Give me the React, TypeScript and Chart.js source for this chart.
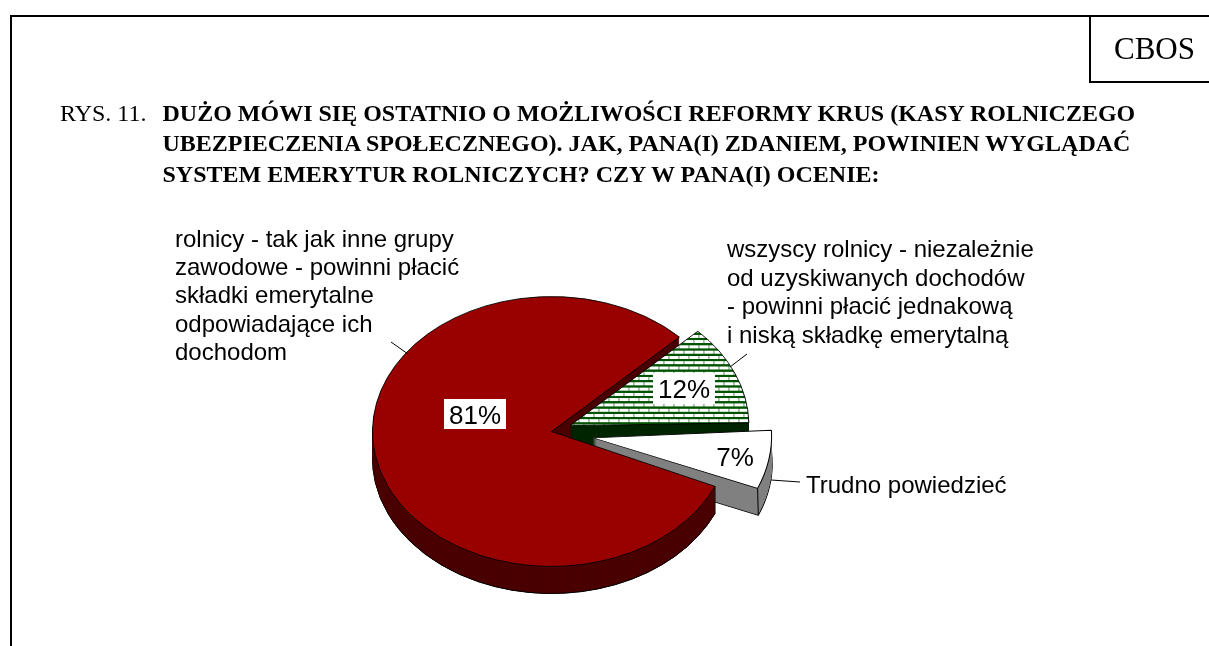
import React, { useEffect, useRef } from "react";
import Chart from "chart.js/auto";

const categories = [
  "rolnicy - tak jak inne grupy zawodowe - powinni płacić składki emerytalne odpowiadające ich dochodom",
  "wszyscy rolnicy - niezależnie od uzyskiwanych dochodów - powinni płacić jednakową i niską składkę emerytalną",
  "Trudno powiedzieć",
];
const shares = [81, 12, 7];
const valueLabels = ["81%", "12%", "7%"];
const explode = [0, 20, 42];
const topColors = ["#990000", "pattern", "#ffffff"];
const wallColors = ["#4a0000", "#002400", "#808080"];

const titleLead = "RYS. 11.";
const titleLines = [
  "DUŻO MÓWI SIĘ OSTATNIO O MOŻLIWOŚCI REFORMY KRUS (KASY ROLNICZEGO",
  "UBEZPIECZENIA SPOŁECZNEGO). JAK, PANA(I) ZDANIEM, POWINIEN WYGLĄDAĆ",
  "SYSTEM EMERYTUR ROLNICZYCH? CZY W PANA(I) OCENIE:",
];
const redLabelLines = ["rolnicy - tak jak inne grupy", "zawodowe - powinni płacić", "składki emerytalne", "odpowiadające ich", "dochodom"];
const greenLabelLines = ["wszyscy rolnicy - niezależnie", "od uzyskiwanych dochodów", "- powinni płacić jednakową", "i niską składkę emerytalną"];
const whiteLabelLines = ["Trudno powiedzieć"];

const W = 1209;
const H = 646;
const TILT = 0.754;
const DEPTH = 27;
const SANS = '"Liberation Sans", Arial, sans-serif';
const SERIF = '"Liberation Serif", "Times New Roman", serif';
// small perspective turn of the exploded slices, in degrees
const perspectiveTurn = [0, 0, -1.5];

const makePattern = () => {
  const c = document.createElement("canvas");
  c.width = 10;
  c.height = 14;
  const g = c.getContext("2d")!;
  g.fillStyle = "#ffffff";
  g.fillRect(0, 0, 10, 14);
  g.fillStyle = "#005400";
  g.fillRect(0, 0, 10, 3);
  g.fillRect(0, 7, 10, 3);
  g.fillStyle = "#5f8f5f";
  g.fillRect(0, 3, 1, 4);
  g.fillRect(5, 10, 1, 4);
  return g.createPattern(c, "repeat");
};

const pie3d = {
  id: "pie3d",
  beforeDatasetDraw(chart: any) {
    const ctx = chart.ctx;
    const arcs = chart.getDatasetMeta(0).data;
    const cx = arcs[0].x;
    const cy = arcs[0].y;

    const shift = (i: number) => {
      const a = arcs[i];
      const mid = (a.startAngle + a.endAngle) / 2;
      return { x: Math.cos(mid) * explode[i], y: Math.sin(mid) * explode[i] * TILT };
    };
    const place = (i: number, dy: number) => {
      const s = shift(i);
      ctx.translate(cx + s.x, cy + s.y);
      ctx.rotate((perspectiveTurn[i] * Math.PI) / 180);
      ctx.translate(-cx, -cy + dy);
    };
    const paint = (i: number, dy: number, fill: any, border: number) => {
      const clone = Object.create(arcs[i]);
      clone.options = { ...arcs[i].options, backgroundColor: fill, borderWidth: border, borderColor: "#000000" };
      ctx.save();
      place(i, dy);
      ctx.translate(0, cy);
      ctx.scale(1, TILT);
      ctx.translate(0, -cy);
      clone.draw(ctx);
      ctx.restore();
    };
    const walls = (i: number) => {
      paint(i, DEPTH, wallColors[i], 1);
      for (let d = DEPTH - 1; d > 0; d--) paint(i, d, wallColors[i], 0);
    };
    const top = (i: number) => paint(i, 0, arcs[i].options.backgroundColor, 1);
    const edge = (i: number, angle: number) => {
      const px = cx + Math.cos(angle) * arcs[i].outerRadius;
      const py = cy + Math.sin(angle) * arcs[i].outerRadius * TILT;
      ctx.save();
      place(i, 0);
      ctx.strokeStyle = "#000000";
      ctx.lineWidth = 1;
      ctx.beginPath();
      ctx.moveTo(px, py);
      ctx.lineTo(px, py + DEPTH);
      ctx.stroke();
      ctx.restore();
    };

    walls(0);
    walls(1);
    top(1);
    walls(2);
    top(2);
    edge(2, arcs[2].endAngle);

    // the near part of the large slice stands in front of the exploded ones
    const a0 = arcs[0].startAngle;
    ctx.save();
    ctx.beginPath();
    ctx.moveTo(cx, cy);
    ctx.lineTo(cx + 2000 * Math.cos(a0), cy + 2000 * Math.sin(a0) * TILT);
    ctx.lineTo(cx - 2000, cy + 2000);
    ctx.lineTo(cx - 2000, cy);
    ctx.closePath();
    ctx.clip();
    walls(0);
    ctx.restore();
    top(0);
    edge(0, a0);
    return false;
  },
  afterDraw(chart: any) {
    const ctx = chart.ctx;
    ctx.save();
    ctx.strokeStyle = "#000000";
    ctx.lineWidth = 1;
    const leaders = [
      [391, 342, 408, 354],
      [747, 354, 730, 367],
      [771, 480, 800, 482],
    ];
    leaders.forEach(([x1, y1, x2, y2]) => {
      ctx.beginPath();
      ctx.moveTo(x1, y1);
      ctx.lineTo(x2, y2);
      ctx.stroke();
    });

    ctx.fillStyle = "#000000";
    ctx.textBaseline = "alphabetic";
    ctx.textAlign = "left";
    ctx.font = `24px ${SANS}`;
    redLabelLines.forEach((t, i) => ctx.fillText(t, 175, 247 + i * 28.2));
    greenLabelLines.forEach((t, i) => ctx.fillText(t, 727, 257 + i * 28.5));
    whiteLabelLines.forEach((t) => ctx.fillText(t, 806, 493));

    const boxes = [
      [444, 399, 62, 30],
      [653, 373, 62, 31],
      [709, 441, 52, 30],
    ];
    ctx.font = `26px ${SANS}`;
    ctx.textAlign = "center";
    valueLabels.forEach((t, i) => {
      const [x, y, w, h] = boxes[i];
      ctx.fillStyle = "#ffffff";
      ctx.fillRect(x, y, w, h);
      ctx.fillStyle = "#000000";
      ctx.fillText(t, x + w / 2, y + h / 2 + 9.5);
    });
    ctx.restore();
  },
};

const rule = (left: number, top: number, width: number, height: number) => (
  <div style={{ position: "absolute", left, top, width, height, background: "#000" }} />
);

const line = (text: string, left: number, baseline: number, size: number, bold: boolean) => (
  <div
    key={text}
    style={{
      position: "absolute",
      left,
      top: baseline - size,
      height: size * 1.2,
      lineHeight: `${size * 1.2}px`,
      fontFamily: SERIF,
      fontSize: size,
      fontWeight: bold ? 700 : 400,
      whiteSpace: "nowrap",
      color: "#000",
    }}
  >
    {text}
  </div>
);

export default function App() {
  const ref = useRef<HTMLCanvasElement>(null);
  useEffect(() => {
    const colors = topColors.map((c) => (c === "pattern" ? makePattern() : c));
    const chart = new Chart(ref.current!, {
      type: "pie",
      data: {
        labels: categories,
        datasets: [
          {
            data: shares,
            backgroundColor: colors as any,
            borderColor: "#000000",
            borderWidth: 1,
            radius: 179,
          } as any,
        ],
      },
      options: {
        responsive: false,
        animation: false,
        events: [],
        rotation: 114,
        layout: { padding: { left: 0, right: W - 2 * 551.5, top: 217, bottom: 0 } },
        plugins: { legend: { display: false }, tooltip: { enabled: false } },
      },
      plugins: [pie3d],
    } as any);
    return () => chart.destroy();
  }, []);
  return (
    <div style={{ position: "fixed", left: 0, top: 0, width: W, height: H, background: "#fff", overflow: "hidden" }}>
      <canvas ref={ref} width={W} height={H} style={{ position: "absolute", left: 0, top: 0, width: W, height: H }} />
      {rule(10, 15, W - 10, 2)}
      {rule(10, 15, 2, H - 15)}
      {rule(1089, 15, 2, 67)}
      {rule(1089, 81, W - 1089, 2)}
      {line("CBOS", 1114, 60.5, 31, false)}
      {line(titleLead, 60, 123.2, 24, false)}
      {titleLines.map((t, i) => line(t, 162.5, 123.2 + i * 30.2, 24, true))}
    </div>
  );
}
